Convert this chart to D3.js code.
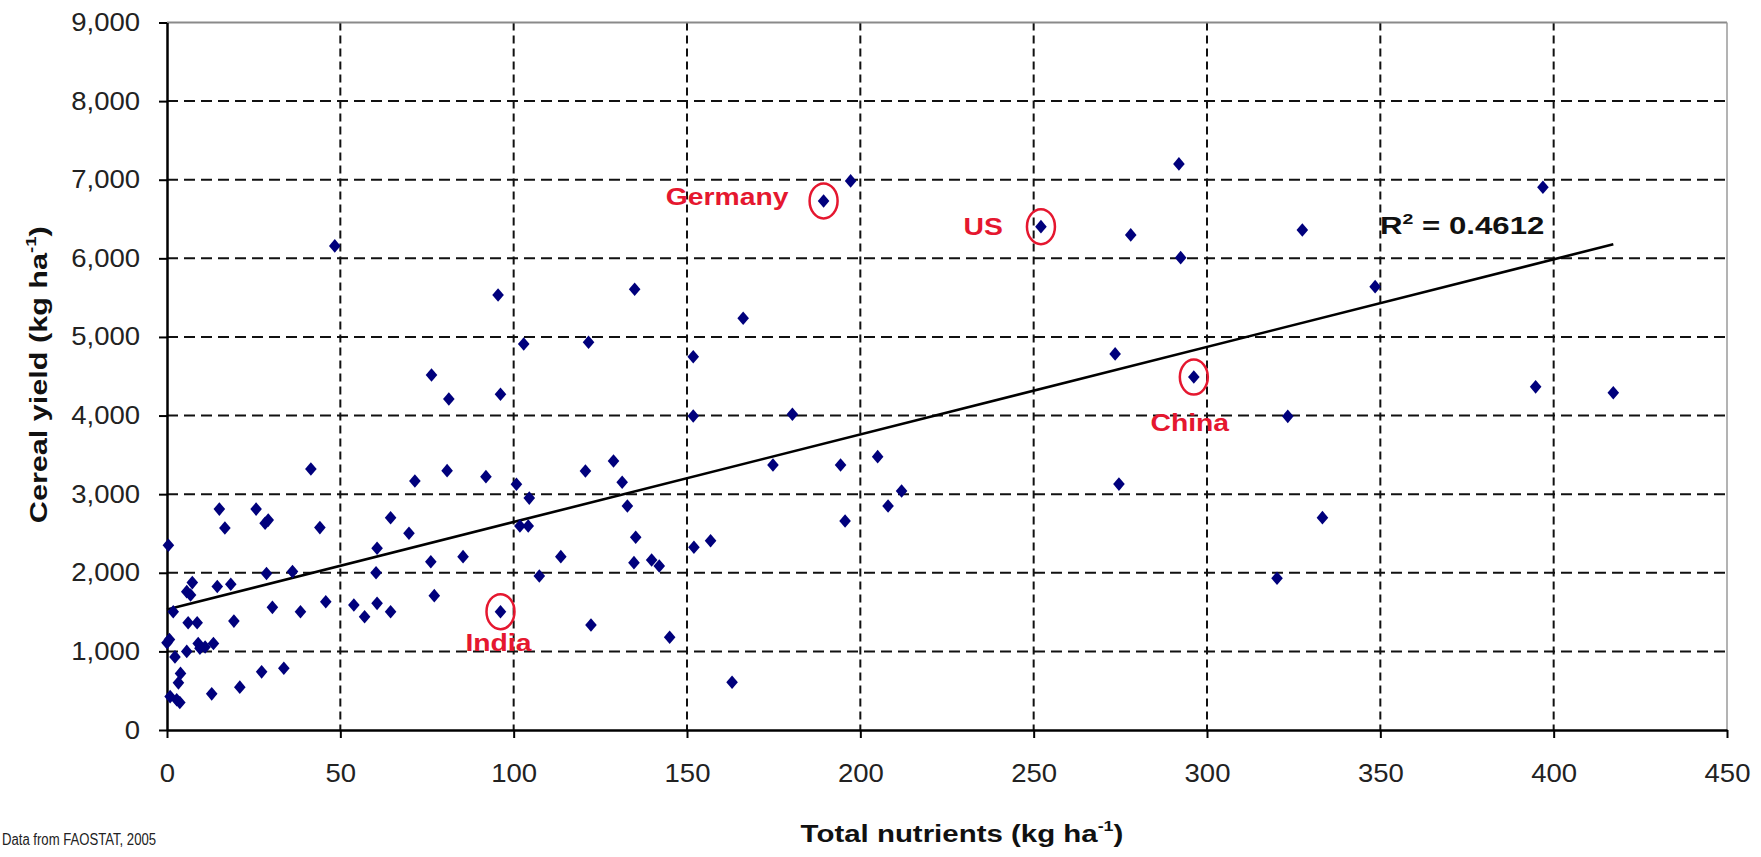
<!DOCTYPE html>
<html><head><meta charset="utf-8">
<script src="https://cdn.jsdelivr.net/npm/d3@7"></script>
<style>
body{margin:0;background:#fff}
svg{display:block;background:#fff}
text{font-family:"Liberation Sans",Arial,Helvetica,sans-serif}
</style></head><body>
<svg id="chart" width="1761" height="857"></svg>
<script>
// ---- data ----
const nutrients = [0.4,0,0.7,1.8,2.3,5.7,9,9.5,11,13.4,
  3.9,3.3,0.9,2.8,3.7,12.9,21,27.3,33.7,
  6.1,8.7,19.3,30.4,38.5,
  7.3,5.7,6.8,14.5,18.4,28.7,36.2,
  15.1,25.7,16.7,28.3,29.2,41.5,
  44.1,45.8,53.9,57,60.6,64.5,60.3,60.6,64.5,69.8,71.5,76.1,77.1,80.8,85.4,92,96.2,100.8,104.5,101.8,104.2,107.4,
  48.4,95.5,134.9,102.9,121.6,151.8,76.3,81.3,96.2,151.8,
  166.2,180.4,128.8,120.7,131.3,132.8,174.8,194.3,205,211.9,208,195.6,135.2,113.6,134.7,139.8,142,152,156.8,122.3,145,163,
  197.2,189.4,252.1,291.9,278,292.4,273.5,296.2,327.5,348.5,396.9,394.8,417.2,323.3,274.6,333.3,320.2];
const cerealYield = [2350,1110,1150,1505,930,1000,1100,1040,1055,1100,
  720,600,425,385,350,460,545,740,785,
  1365,1365,1385,1560,1505,
  1875,1760,1718,1825,1855,1990,2015,
  2810,2810,2570,2630,2670,3320,
  2575,1632,1590,1441,1611,1505,2000,2312,2700,2502,3168,2141,1709,3299,2205,3223,1505,3126,2950,2595,2595,1959,
  6158,5534,5607,4911,4932,4749,4516,4211,4271,3995,
  5238,4017,3422,3295,3151,2850,3371,3371,3477,3041,2850,2659,2452,2205,2129,2163,2087,2324,2408,1336,1179,607,
  6985,6730,6403,7201,6298,6009,4784,4490,6361,5640,6904,4365,4291,3990,3128,2701,1930];
const xTickValues = [0,50,100,150,200,250,300,350,400,450];
const yTickValues = [0,1000,2000,3000,4000,5000,6000,7000,8000,9000];
const highlightNames = ["Germany","US","China","India"];
const highlightX = [189.4,252.1,296.2,96.2];
const highlightY = [6730,6403,4490,1505];
const trendX = [0,417.2];
const trendY = [1532,6179];
const rSquaredText = "0.4612";
const xTitleText = "Total nutrients (kg ha";
const yTitleText = "Cereal yield (kg ha";
const sourceText = "Data from FAOSTAT, 2005";

// ---- layout ----
const L = 167, R = 1727, T = 22.5, B = 730;
const svg = d3.select("#chart");
const x = d3.scaleLinear().domain([0,450]).range([L,R]);
const y = d3.scaleLinear().domain([0,9000]).range([B,T]);
const navy = "#00007c", red = "#e5172f";
const stretch = (k, origin) => `transform-box:fill-box;transform-origin:${origin};transform:scaleX(${k})`;

// gridlines
svg.append("g").selectAll("line").data(yTickValues.filter(v => v > 0 && v < 9000)).join("line")
  .attr("x1", L).attr("x2", R).attr("y1", d => y(d)).attr("y2", d => y(d))
  .attr("stroke", "#111").attr("stroke-width", 2).attr("stroke-dasharray", "11,6");
svg.append("g").selectAll("line").data(xTickValues.filter(v => v > 0 && v < 450)).join("line")
  .attr("x1", d => x(d)).attr("x2", d => x(d)).attr("y1", T).attr("y2", B)
  .attr("stroke", "#111").attr("stroke-width", 2).attr("stroke-dasharray", "8,5");

// top & right border
svg.append("line").attr("x1", L).attr("x2", R).attr("y1", T).attr("y2", T).attr("stroke", "#8a8a8a").attr("stroke-width", 2);
svg.append("line").attr("x1", R).attr("x2", R).attr("y1", T).attr("y2", B).attr("stroke", "#9a9a9a").attr("stroke-width", 1.5);

// axes
const yAxis = svg.append("g").attr("transform", `translate(${L},0)`)
  .call(d3.axisLeft(y).tickValues(yTickValues).tickSize(8).tickSizeOuter(0).tickPadding(19).tickFormat(d3.format(",")));
const xAxis = svg.append("g").attr("transform", `translate(0,${B})`)
  .call(d3.axisBottom(x).tickValues(xTickValues).tickSize(8).tickSizeOuter(0).tickPadding(26).tickFormat(d3.format("d")));
[yAxis, xAxis].forEach(g => {
  g.select(".domain").attr("stroke", "#000").attr("stroke-width", 2.5);
  g.selectAll(".tick line").attr("stroke", "#000").attr("stroke-width", 2);
  g.selectAll(".tick text").attr("font-size", 25).attr("fill", "#222")
    .attr("font-family", '"Liberation Sans",Arial,sans-serif');
});
yAxis.selectAll(".tick text").attr("style", stretch(1.1, "100% 50%"));
xAxis.selectAll(".tick text").attr("style", stretch(1.1, "50% 50%"));

// trendline
svg.append("line")
  .attr("x1", x(trendX[0])).attr("y1", y(trendY[0]))
  .attr("x2", x(trendX[1])).attr("y2", y(trendY[1]))
  .attr("stroke", "#000").attr("stroke-width", 2.6);

// points
const diamond = "M0,-6.8L5.8,0L0,6.8L-5.8,0Z";
svg.append("g").selectAll("path").data(nutrients.map((v, i) => [v, cerealYield[i]])).join("path")
  .attr("d", diamond).attr("fill", navy)
  .attr("transform", d => `translate(${x(d[0])},${y(d[1])})`);

// highlight circles + labels
const labelStyle = {
  Germany: {dx: -35, dy: 4, anchor: "end", origin: "100% 50%"},
  US: {dx: -38, dy: 8, anchor: "end", origin: "100% 50%"},
  China: {dx: -4, dy: 54, anchor: "middle", origin: "50% 50%"},
  India: {dx: -2, dy: 39, anchor: "middle", origin: "50% 50%"}
};
highlightNames.forEach((name, i) => {
  const cx = x(highlightX[i]), cy = y(highlightY[i]);
  svg.append("ellipse").attr("cx", cx).attr("cy", cy).attr("rx", 14).attr("ry", 17.5)
    .attr("fill", "none").attr("stroke", red).attr("stroke-width", 2.5);
  const s = labelStyle[name];
  svg.append("text").attr("x", cx + s.dx).attr("y", cy + s.dy)
    .attr("text-anchor", s.anchor).attr("font-size", 24).attr("font-weight", "bold")
    .attr("fill", red).attr("style", stretch(1.18, s.origin)).text(name);
});

// R^2 label
const r2 = svg.append("text").attr("x", 1380).attr("y", 234).attr("font-size", 24)
  .attr("font-weight", "bold").attr("fill", "#111").attr("style", stretch(1.3, "0% 50%"));
r2.append("tspan").text("R");
r2.append("tspan").attr("font-size", 15).attr("dy", -10).text("2");
r2.append("tspan").attr("dy", 10).text(" = " + rSquaredText);

// x title
const xt = svg.append("text").attr("x", 962).attr("y", 842).attr("text-anchor", "middle")
  .attr("font-size", 23).attr("font-weight", "bold").attr("fill", "#111")
  .attr("style", stretch(1.28, "50% 50%"));
xt.append("tspan").text(xTitleText);
xt.append("tspan").attr("font-size", 14).attr("dy", -11).text("-1");
xt.append("tspan").attr("dy", 11).text(")");

// y title
const yt = svg.append("text").attr("x", 38).attr("y", 384).attr("text-anchor", "middle")
  .attr("font-size", 23).attr("font-weight", "bold").attr("fill", "#111")
  .attr("style", "transform-box:fill-box;transform-origin:50% 50%;transform:rotate(-90deg) scaleX(1.33)");
yt.append("tspan").text(yTitleText);
yt.append("tspan").attr("font-size", 14).attr("dy", -11).text("-1");
yt.append("tspan").attr("dy", 11).text(")");

// source note
svg.append("text").attr("x", 2).attr("y", 845).attr("font-size", 16).attr("fill", "#222")
  .attr("style", stretch(0.82, "0% 50%")).text(sourceText);
</script>
</body></html>
